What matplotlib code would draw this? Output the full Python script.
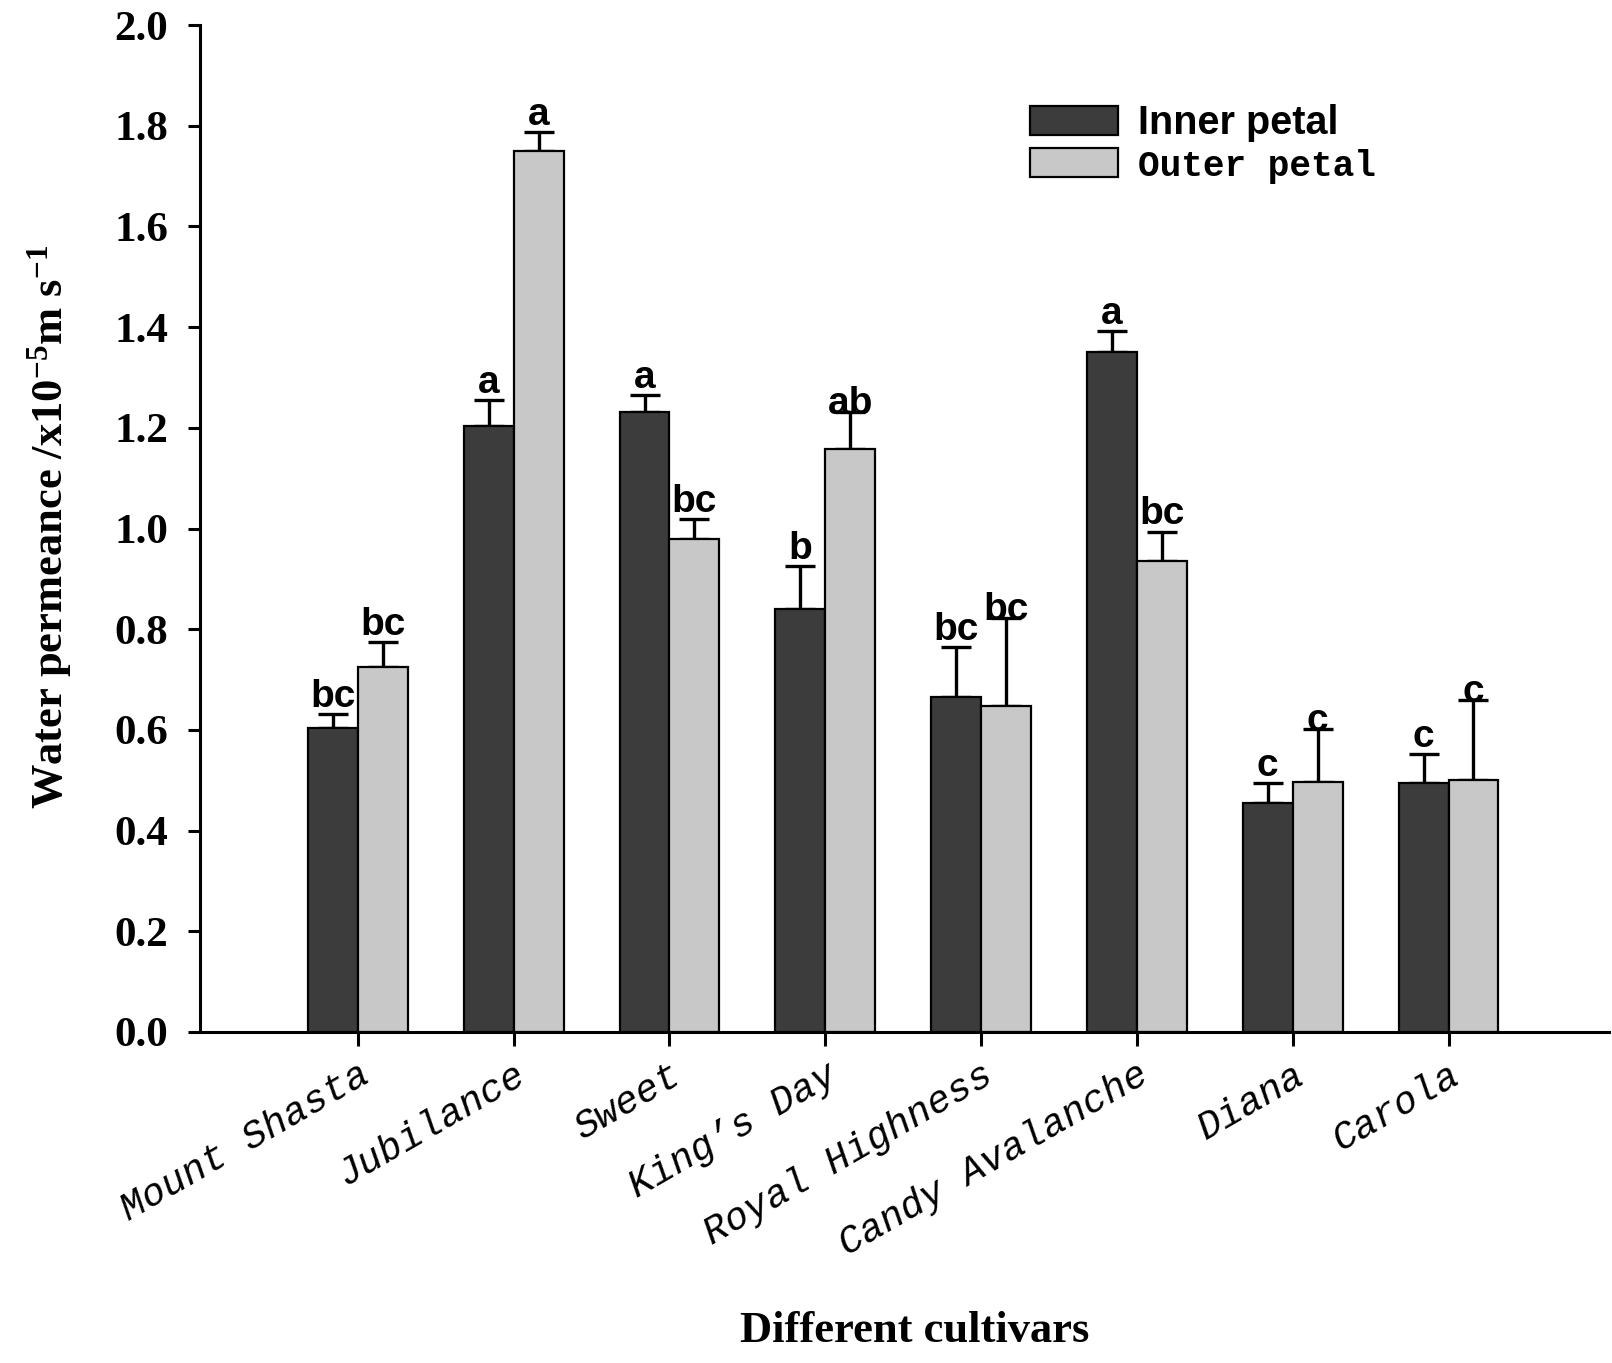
import matplotlib
matplotlib.use("Agg")
import matplotlib.pyplot as plt
from matplotlib.patches import Patch
import numpy as np

# ---------------- data ----------------
categories = ['Mount Shasta', 'Jubilance', 'Sweet', 'King\u2019s Day',
              'Royal Highness', 'Candy Avalanche', 'Diana', 'Carola']
inner = [0.603, 1.204, 1.232, 0.840, 0.665, 1.351, 0.455, 0.494]
inner_err = [0.028, 0.052, 0.033, 0.086, 0.100, 0.042, 0.040, 0.058]
outer = [0.724, 1.750, 0.980, 1.158, 0.648, 0.936, 0.496, 0.500]
outer_err = [0.050, 0.037, 0.038, 0.073, 0.175, 0.058, 0.105, 0.160]
inner_letters = ['bc', 'a', 'a', 'b', 'bc', 'a', 'c', 'c']
outer_letters = ['bc', 'a', 'bc', 'ab', 'bc', 'bc', 'c', 'c']
yticks = [0.0, 0.2, 0.4, 0.6, 0.8, 1.0, 1.2, 1.4, 1.6, 1.8, 2.0]
series_names = ['Inner petal', 'Outer petal']

# ---------------- style ----------------
W, H = 1612, 1363
DPI = 100
plt.rcParams['mathtext.fontset'] = 'custom'
plt.rcParams['mathtext.rm'] = 'Liberation Serif:bold'
plt.rcParams['mathtext.it'] = 'Liberation Serif:bold'
plt.rcParams['mathtext.bf'] = 'Liberation Serif:bold'

fig = plt.figure(figsize=(W / DPI, H / DPI), dpi=DPI)
ax = fig.add_axes([200 / W, 1 - 1032 / H, (1609 - 200) / W, (1032 - 25) / H])

x = np.arange(len(categories))
bw = 0.32
c_in, c_out = '#3c3c3c', '#c8c8c8'

ax.bar(x - bw / 2, inner, bw, color=c_in, edgecolor='black', linewidth=1.6, zorder=2)
ax.bar(x + bw / 2, outer, bw, color=c_out, edgecolor='black', linewidth=1.6, zorder=2)

zeros = [0] * len(categories)
ax.errorbar(x - bw / 2, inner, yerr=[zeros, inner_err], fmt='none', ecolor='black',
            elinewidth=2.4, capsize=11, capthick=2.4, zorder=1)
ax.errorbar(x + bw / 2, outer, yerr=[zeros, outer_err], fmt='none', ecolor='black',
            elinewidth=2.4, capsize=11, capthick=2.4, zorder=1)

letter_font = dict(family='Liberation Sans', weight='bold', size=28)
overlap_outer = {3, 4, 6, 7}
for i in range(len(categories)):
    ax.text(x[i] - bw / 2, inner[i] + inner_err[i] + 0.014, inner_letters[i],
            ha='center', va='baseline', **letter_font)
    gap = -0.004 if i in overlap_outer else 0.014
    ax.text(x[i] + bw / 2, outer[i] + outer_err[i] + gap, outer_letters[i],
            ha='center', va='baseline', **letter_font)

ax.set_xlim(-1.013, 8.03)
ax.set_ylim(0, 2.0)
ax.set_yticks(yticks)
ax.set_yticklabels([f'{v:.1f}' for v in yticks],
                   fontfamily='Liberation Serif', fontweight='bold', fontsize=31)
ax.set_xticks(x)
ax.set_xticklabels(categories, rotation=30, ha='right', rotation_mode='anchor',
                   fontfamily='Liberation Mono', fontstyle='italic', fontsize=28)
for s in ['top', 'right']:
    ax.spines[s].set_visible(False)
for s in ['left', 'bottom']:
    ax.spines[s].set_linewidth(2.2)
ax.tick_params(axis='y', direction='out', length=9, width=2.2, pad=14)
ax.tick_params(axis='x', direction='out', length=10, width=2.2, pad=8)

fig.text(50 / W, 1 - 527 / H, 'Water permeance /x10$^{-5}$m s$^{-1}$', rotation=90,
         ha='center', va='center', fontfamily='Liberation Serif', fontweight='bold',
         fontsize=32)
fig.text(915 / W, 1 - 1331 / H, 'Different cultivars', ha='center', va='center',
         fontfamily='Liberation Serif', fontweight='bold', fontsize=32)

handles = [Patch(facecolor=c_in, edgecolor='black', linewidth=1.6),
           Patch(facecolor=c_out, edgecolor='black', linewidth=1.6)]
leg = ax.legend(handles, series_names, loc='upper left',
                bbox_to_anchor=(1030 / W, 1 - 104 / H), bbox_transform=fig.transFigure,
                frameon=False, fontsize=28.5, handlelength=2.22, handleheight=0.76,
                handletextpad=0.5, labelspacing=0.14, borderpad=0, borderaxespad=0)
t_in, t_out = leg.get_texts()
t_in.set_fontfamily('Liberation Sans')
t_in.set_fontweight('bold')
t_out.set_fontfamily('Liberation Mono')
t_out.set_fontweight('bold')
t_out.set_fontsize(26)

fig.savefig('out.png', dpi=DPI)
